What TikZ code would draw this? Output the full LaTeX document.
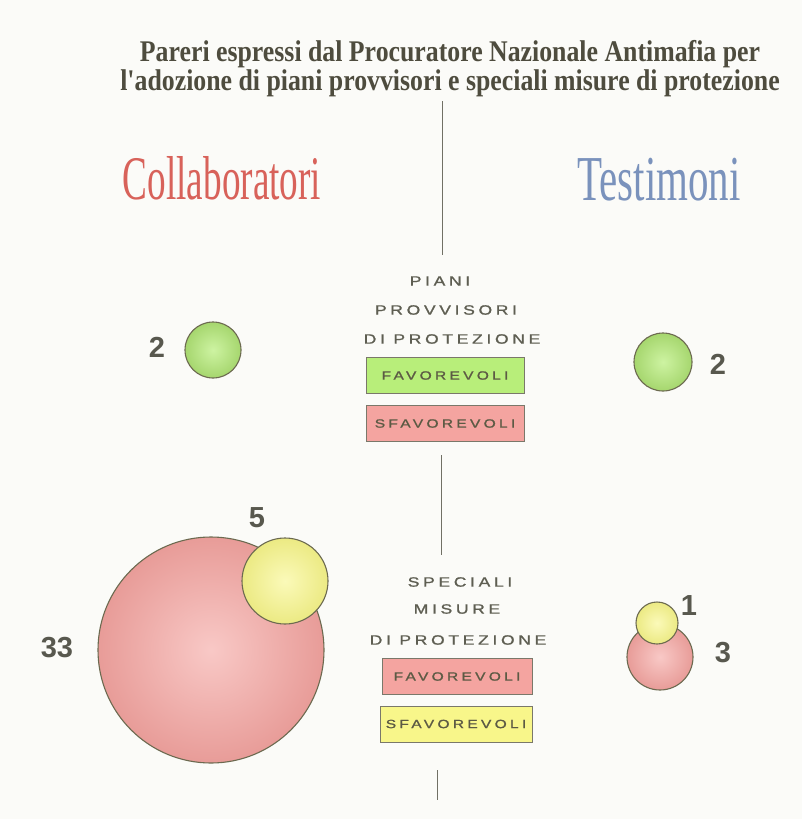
\documentclass[tikz,border=0pt]{standalone}
\usepackage{fontspec}
\setmainfont{Liberation Serif}
\newfontfamily\titlefont[FakeStretch=0.86]{Liberation Serif}
\newfontfamily\headfont[FakeStretch=0.6]{Liberation Serif}
\newfontfamily\testfont[FakeStretch=0.64]{Liberation Serif}
\newfontfamily\capsfont[FakeStretch=1.3, LetterSpace=27, FakeBold=1.2]{Liberation Sans}
\newfontfamily\numfont{Liberation Sans}
\usetikzlibrary{positioning}
\definecolor{PaperWhite}{HTML}{FBFBF8}
\definecolor{TitleGray}{HTML}{4E4C3E}
\definecolor{CollabRed}{HTML}{D8625A}
\definecolor{TestiBlue}{HTML}{7A92BC}
\definecolor{LabelGray}{HTML}{5E5E52}
\definecolor{BoxEdge}{HTML}{7A786A}
\definecolor{BoxText}{HTML}{5C5A44}
\definecolor{FavGreen}{HTML}{B8EE7A}
\definecolor{SfavRed}{HTML}{F4A4A0}
\definecolor{SfavYellow}{HTML}{F8F68A}
\definecolor{BubbleEdge}{HTML}{6C6A50}
\definecolor{CountGray}{HTML}{58584E}

\tikzset{
  phase/.style={font=\capsfont\fontsize{13.5}{13.5}\selectfont, text=LabelGray, inner sep=0pt},
  votebox/.style={draw=BoxEdge, line width=0.9pt, minimum width=158pt, minimum height=36pt,
    inner sep=0pt, font=\capsfont\fontsize{12}{12}\selectfont, text=BoxText},
  bubble/.style={circle, draw=BubbleEdge, line width=1.1pt, inner sep=0pt},
  greenball/.style={bubble, inner color=FavGreen!70!white, outer color=FavGreen!90!black},
  redball/.style={bubble, inner color=SfavRed!60!white, outer color=SfavRed!95!black},
  yellowball/.style={bubble, inner color=SfavYellow!60!white, outer color=SfavYellow!95!black},
  count/.style={font=\numfont\bfseries\fontsize{29}{29}\selectfont, text=CountGray, inner sep=0pt},
  divider/.style={draw=TitleGray!80, line width=0.8pt}
}

\begin{document}
\begin{tikzpicture}[x=1pt, y=-1pt]
        \fill[PaperWhite] (0,0) rectangle (802,819);
        \useasboundingbox (0,0) rectangle (802,819);

        % title and the two sides
        \node[align=center, font=\titlefont\bfseries\fontsize{30}{29}\selectfont, text=TitleGray] (title) at (450,69)
            {Pareri espressi dal Procuratore Nazionale Antimafia per\\l'adozione di piani provvisori e speciali misure di protezione};
        \node[font=\headfont\fontsize{62}{62}\selectfont, text=CollabRed] (collab) at (222,178) {Collaboratori};
        \node[font=\testfont\fontsize{64}{64}\selectfont, text=TestiBlue] (testi) at (659,180) {Testimoni};

        % divider
        \coordinate (divA) at (442,101);
        \coordinate (divB) at (442,255);
        \coordinate (divC) at (441,455);
        \coordinate (divD) at (441,555);
        \coordinate (divE) at (437,770);
        \coordinate (divF) at (437,800);
        \draw[divider] (divA) -- (divB);
        \draw[divider] (divC) -- (divD);
        \draw[divider] (divE) -- (divF);

        % piani provvisori
        \node[phase] (piani) at (440,281) {PIANI};
        \node[phase] (provv) at (446,310) {PROVVISORI};
        \node[phase] (protA) at (452,339) {DI PROTEZIONE};
        \node[votebox, fill=FavGreen] (favA) at (445,375.5) {FAVOREVOLI};
        \node[votebox, fill=SfavRed] (sfavA) at (445,423.5) {SFAVOREVOLI};

        % speciali misure
        \node[phase] (spec) at (460,582) {SPECIALI};
        \node[phase] (misure) at (457,609) {MISURE};
        \node[phase] (protB) at (458,640) {DI PROTEZIONE};
        \node[votebox, fill=SfavRed, minimum width=150pt] (favB) at (457,676.5) {FAVOREVOLI};
        \node[votebox, fill=SfavYellow, minimum width=152pt] (sfavB) at (456,724) {SFAVOREVOLI};

        % bubbles
        \node[greenball, minimum size=56pt] (collA) at (213,350) {};
        \node[count] at (157,347) {2};
        \node[greenball, minimum size=58pt] (testA) at (663,362) {};
        \node[count] at (718,364) {2};

        \node[redball, minimum size=226pt] (collFav) at (211,650) {};
        \node[yellowball, minimum size=86pt] (collSfav) at (285,581) {};
        \node[count] at (257,518) {5};
        \node[count] at (57,648) {33};

        \node[redball, minimum size=66pt] (testFav) at (660,657) {};
        \node[yellowball, minimum size=42pt] (testSfav) at (657,623) {};
        \node[count] at (689,606) {1};
        \node[count] at (723,653) {3};
    \end{tikzpicture}
\end{document}
